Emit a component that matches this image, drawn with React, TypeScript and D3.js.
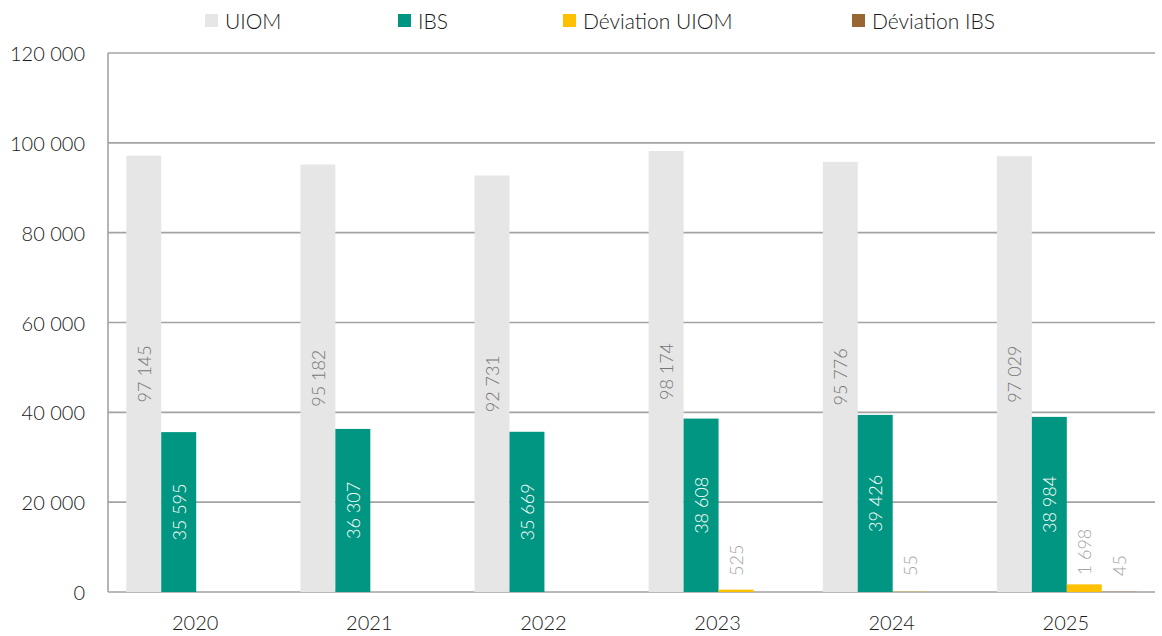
import React from "react";
import * as d3 from "d3";

const years = ["2020", "2021", "2022", "2023", "2024", "2025"];
const seriesNames = ["UIOM", "IBS", "Déviation UIOM", "Déviation IBS"];
const uiom = [97145, 95182, 92731, 98174, 95776, 97029];
const ibs = [35595, 36307, 35669, 38608, 39426, 38984];
const devUiom: (number | null)[] = [null, null, null, 525, 55, 1698];
const devIbs: (number | null)[] = [null, null, null, null, null, 45];
const yTicks = [0, 20000, 40000, 60000, 80000, 100000, 120000];

const colors = ["#e6e6e6", "#009681", "#ffc000", "#996533"];
const labelColors = ["#767676", "#ffffff", "#a6a6a6", "#a6a6a6"];
const font = "Lato, 'Open Sans', sans-serif";

const fmt = (v: number) => d3.format(",")(v).replace(/,/g, " ");

export default function App() {
  const W = 1162, H = 636;
  const left = 108, right = 1155, top = 53, bottom = 592;
  const series = [uiom, ibs, devUiom, devIbs];

  const x = d3.scaleBand<string>().domain(years).range([left, right]).paddingInner(0.197).paddingOuter(0.105);
  const xs = d3.scaleBand<number>().domain([0, 1, 2, 3]).range([0, x.bandwidth()]).padding(0);
  const y = d3.scaleLinear().domain([0, 120000]).range([bottom, top]);

  const legendX = [205, 398, 563, 852];

  return (
    <svg width={W} height={H} style={{ position: "fixed", left: 0, top: 0, background: "#fff" }} fontFamily={font} fontWeight={300}>
      {/* grid */}
      {yTicks.map((t) => (
        <g key={t}>
          <line x1={left} x2={right} y1={y(t)} y2={y(t)} stroke="#a3a3a3" strokeWidth={1.6} />
          <text x={85} y={y(t)} textAnchor="end" dominantBaseline="central" fontSize={20} fill="#1a1a1a">
            {fmt(t)}
          </text>
        </g>
      ))}
      <line x1={left} x2={left} y1={top} y2={bottom} stroke="#a3a3a3" strokeWidth={1.6} />

      {/* bars */}
      {years.map((yr, i) => (
        <g key={yr}>
          {series.map((s, k) => {
            const v = s[i];
            if (v == null) return null;
            const bx = (x(yr) as number) + (xs(k) as number);
            const bw = xs.bandwidth();
            const by = y(v);
            return (
              <rect key={k} x={bx} y={by} width={bw} height={bottom - by} fill={colors[k]} />
            );
          })}
          <text x={(x(yr) as number) + x.bandwidth() / 2 - 1} y={622} textAnchor="middle" dominantBaseline="central" fontSize={20} fill="#1a1a1a">
            {yr}
          </text>
        </g>
      ))}

      {/* labels */}
      {years.map((yr, i) => (
        <g key={"l" + yr}>
          {series.map((s, k) => {
            const v = s[i];
            if (v == null) return null;
            const cx = (x(yr) as number) + (xs(k) as number) + xs.bandwidth() / 2;
            const by = y(v);
            if (k < 2) {
              const cy = (by + bottom) / 2;
              return (
                <text key={k} transform={`translate(${cx},${cy}) rotate(-90)`} textAnchor="middle" dominantBaseline="central" fontSize={18} fill={labelColors[k]}>
                  {fmt(v)}
                </text>
              );
            }
            const ly = Math.min(by - 9, 576);
            return (
              <text key={k} transform={`translate(${cx},${ly}) rotate(-90)`} textAnchor="start" dominantBaseline="central" fontSize={18} fill={labelColors[k]}>
                {fmt(v)}
              </text>
            );
          })}
        </g>
      ))}

      {/* legend */}
      {seriesNames.map((n, k) => (
        <g key={n}>
          <rect x={legendX[k]} y={14} width={13} height={13} fill={colors[k]} />
          <text x={legendX[k] + 20} y={20.5} dominantBaseline="central" fontSize={21} fill="#1a1a1a">
            {n}
          </text>
        </g>
      ))}
    </svg>
  );
}
